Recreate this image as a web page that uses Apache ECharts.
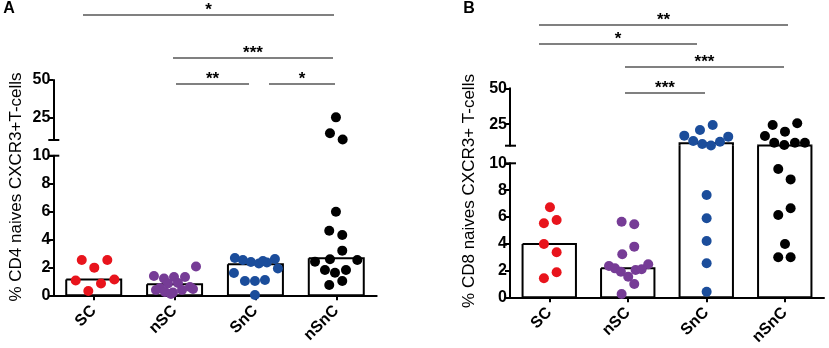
<!DOCTYPE html>
<html>
<head>
<meta charset="utf-8">
<script src="https://cdn.jsdelivr.net/npm/echarts@6/dist/echarts.min.js"></script>
<style>
  html, body { margin: 0; background: #fff; }
  #chart { width: 829px; height: 348px; }
</style>
</head>
<body>
<div id="chart"></div>
<script>
var categories = ['SC', 'nSC', 'SnC', 'nSnC'];
var groupColors = ['#e8141c', '#763c96', '#1b4d9b', '#000000'];

// axis break: lower segment 0-10, upper segment 10-50
var breakValue = 10;
var upperTicks = [25, 50];

// A: % CD4 naives CXCR3+ T-cells (bar = median, one dot per donor)
var cd4Median = [1.13, 0.79, 2.22, 2.65];
var cd4SC = [2.53, 2.53, 1.98, 1.06, 1.13, 0.84, 0.31];
var cd4SCJitter = [-0.148, 0.168, 0.007, -0.223, 0.255, 0.09, -0.067];
var cd4nSC = [2.06, 1.38, 1.2, 1.31, 1.31, 0.85, 0.88, 0.52, 0.59, 0.24, 0.2, 0.38, 0.38, 0.09, 0.45];
var cd4nSCJitter = [0.265, -0.255, -0.131, -0.007, 0.129, -0.082, 0.042, -0.181, 0.19, -0.119, -0.02, 0.092, -0.23, -0.045, 0.228];
var cd4SnC = [2.67, 2.53, 2.39, 2.28, 2.35, 2.6, 1.6, 1.92, 1.02, 1.02, 1.1, 0.02, 2.45];
var cd4SnCJitter = [-0.254, -0.155, -0.056, 0.043, 0.142, 0.241, -0.266, 0.278, -0.13, -0.006, 0.118, -0.006, 0.093];
var cd4nSnC = [25.1, 14.5, 10.3, 5.99, 4.63, 4.32, 3.2, 2.41, 2.58, 2.53, 1.81, 1.62, 1.81, 0.74, 1.02];
var cd4nSnCJitter = [-0.004, -0.078, 0.079, -0.004, -0.087, 0.074, 0.074, -0.263, -0.078, 0.26, -0.14, -0.016, 0.12, -0.087, 0.074];

// B: % CD8 naives CXCR3+ T-cells
var cd8Median = [3.98, 2.16, 11.7, 10.2];
var cd8SC = [6.72, 5.52, 5.77, 3.98, 3.36, 1.42, 1.87];
var cd8SCJitter = [0.009, -0.068, 0.094, -0.068, 0.094, -0.068, 0.094];
var cd8nSC = [5.64, 5.45, 3.78, 3.21, 2.34, 2.16, 1.91, 1.54, 2.04, 2.09, 2.46, 0.99, 0.25];
var cd8nSCJitter = [-0.078, 0.083, 0.083, -0.07, -0.239, -0.163, -0.087, 0.006, 0.1, 0.177, 0.261, 0.083, -0.078];
var cd8SnC = [24.4, 20.9, 17.0, 16.3, 13.3, 11.2, 10.2, 12.8, 7.63, 5.9, 4.2, 2.54, 0.42];
var cd8SnCJitter = [0.082, -0.08, -0.28, 0.28, -0.166, -0.051, 0.06, 0.175, 0.005, 0.005, 0.005, 0.005, 0.005];
var cd8nSnC = [24.4, 25.6, 16.8, 19.8, 12.1, 10.5, 12.1, 12.1, 9.57, 8.8, 6.64, 6.14, 3.98, 2.99, 2.99];
var cd8nSnCJitter = [-0.154, 0.159, -0.252, 0.003, -0.134, -0.006, 0.13, 0.257, -0.083, 0.075, 0.075, -0.083, 0.003, -0.083, 0.075];

// significance brackets: [from x, to x, y, stars]
var sigA = [[83, 334, 15, '*'], [173, 333, 58, '***'], [176, 249, 84, '**'], [269, 335, 84, '*']];
var sigB = [[539, 788, 25, '**'], [539, 697, 44, '*'], [625, 784, 67, '***'], [625, 705, 93, '***']];

var font = 'Liberation Sans, Arial, sans-serif';
var barWidth = 0.68;

var panels = [
  {
    letter: 'A', title: '% CD4 naives CXCR3+T-cells', median: cd4Median,
    groups: [[cd4SC, cd4SCJitter], [cd4nSC, cd4nSCJitter], [cd4SnC, cd4SnCJitter], [cd4nSnC, cd4nSnCJitter]],
    sig: sigA, left: 53.3, width: 323.4, upTop: 80, upH: 60, lowTop: 155.7, lowH: 139.6,
    titleX: 16, titleY: 187, letterX: 9
  },
  {
    letter: 'B', title: '% CD8 naives CXCR3+ T-cells', median: cd8Median,
    groups: [[cd8SC, cd8SCJitter], [cd8nSC, cd8nSCJitter], [cd8SnC, cd8SnCJitter], [cd8nSnC, cd8nSnCJitter]],
    sig: sigB, left: 510, width: 314, upTop: 88.3, upH: 57.4, lowTop: 163.3, lowH: 134,
    titleX: 469, titleY: 191, letterX: 469
  }
];

var axisLine = { show: true, onZero: false, lineStyle: { color: '#000', width: 2 } };
var axisTick = { show: true, length: 5, lineStyle: { color: '#000', width: 2 } };
var tickLabel = { color: '#000', fontWeight: 'bold', fontSize: 16, fontFamily: font, margin: 3 };

function dots(values, jitter, g, upper) {
  var out = [];
  for (var i = 0; i < values.length; i++) {
    if ((values[i] >= breakValue) === upper) out.push([g + jitter[i], values[i]]);
  }
  return out;
}

function barStyle() {
  return { fill: null, stroke: '#000', lineWidth: 2 };
}

// lower segment: closed box, or an open box running up through the gap
function lowerBar(gap) {
  return function (params, api) {
    var g = api.value(0), v = api.value(1);
    var half = api.size([barWidth, 0])[0] / 2;
    var base = api.coord([g, 0]);
    var l = base[0] - half, r = base[0] + half;
    var top = v < breakValue ? api.coord([g, v])[1] : api.coord([g, breakValue])[1] - gap;
    var pts = [[l, top], [l, base[1]], [r, base[1]], [r, top]];
    if (v < breakValue) pts.push([l, top]);
    return { type: 'polyline', shape: { points: pts }, style: barStyle() };
  };
}

function upperBar(params, api) {
  var g = api.value(0), v = api.value(1);
  if (v < breakValue) return null;
  var half = api.size([barWidth, 0])[0] / 2;
  var bottom = api.coord([g, breakValue]);
  var top = api.coord([g, v])[1];
  var l = bottom[0] - half, r = bottom[0] + half;
  return {
    type: 'polyline',
    shape: { points: [[l, bottom[1]], [l, top], [r, top], [r, bottom[1]]] },
    style: barStyle()
  };
}

var grid = [], xAxis = [], yAxis = [], series = [], graphic = [];

panels.forEach(function (p) {
  var up = grid.length, low = up + 1;
  grid.push({ left: p.left, top: p.upTop, width: p.width, height: p.upH });
  grid.push({ left: p.left, top: p.lowTop, width: p.width, height: p.lowH });

  var xUp = xAxis.length;
  xAxis.push({ gridIndex: up, type: 'value', min: -0.5, max: 3.5, show: false });
  xAxis.push({ gridIndex: low, type: 'value', min: -0.5, max: 3.5, show: false });
  xAxis.push({
    gridIndex: low, type: 'category', position: 'bottom', data: categories,
    axisLine: axisLine,
    axisTick: { show: true, alignWithLabel: true, length: 5, lineStyle: { color: '#000', width: 2 } },
    axisLabel: { color: '#000', fontWeight: 'bold', fontSize: 16, fontFamily: font, rotate: 45, margin: 13 }
  });

  yAxis.push({
    gridIndex: up, type: 'value', min: breakValue, max: 50,
    axisLine: axisLine,
    axisTick: { show: true, length: 5, lineStyle: { color: '#000', width: 2 }, customValues: upperTicks },
    axisLabel: { color: '#000', fontWeight: 'bold', fontSize: 16, fontFamily: font, margin: 3, customValues: upperTicks },
    splitLine: { show: false }
  });
  yAxis.push({
    gridIndex: low, type: 'value', min: 0, max: breakValue, interval: 2,
    axisLine: axisLine, axisTick: axisTick, axisLabel: tickLabel,
    splitLine: { show: false }
  });

  var gap = p.lowTop - (p.upTop + p.upH);
  var barData = p.median.map(function (v, g) { return [g, v]; });
  series.push({ type: 'custom', xAxisIndex: xUp, yAxisIndex: up, data: barData, renderItem: upperBar, silent: true, z: 2 });
  series.push({ type: 'custom', xAxisIndex: xUp + 1, yAxisIndex: low, data: barData, renderItem: lowerBar(gap), silent: true, z: 2 });

  p.groups.forEach(function (grp, g) {
    [true, false].forEach(function (upper) {
      series.push({
        type: 'scatter',
        xAxisIndex: upper ? xUp : xUp + 1,
        yAxisIndex: upper ? up : low,
        data: dots(grp[0], grp[1], g, upper),
        symbolSize: 10,
        itemStyle: { color: groupColors[g], opacity: 1 },
        silent: true,
        z: 3
      });
    });
  });

  // break marks
  [p.upTop + p.upH, p.lowTop].forEach(function (y) {
    graphic.push({ type: 'line', shape: { x1: p.left - 5, y1: y, x2: p.left + 6, y2: y }, style: { stroke: '#000', lineWidth: 2 } });
  });

  graphic.push({
    type: 'text', x: p.titleX, y: p.titleY, rotation: Math.PI / 2,
    style: { text: p.title, font: '17px ' + font, fill: '#000', textAlign: 'center', textVerticalAlign: 'middle' }
  });
  graphic.push({
    type: 'text', x: p.letterX, y: 9,
    style: { text: p.letter, font: 'bold 16px ' + font, fill: '#000', textAlign: 'center', textVerticalAlign: 'middle' }
  });

  p.sig.forEach(function (s) {
    graphic.push({ type: 'line', shape: { x1: s[0], y1: s[2], x2: s[1], y2: s[2] }, style: { stroke: '#808080', lineWidth: 2 } });
    graphic.push({
      type: 'text', x: (s[0] + s[1]) / 2, y: s[2] - 5,
      style: { text: s[3], font: 'bold 17px ' + font, fill: '#000', textAlign: 'center', textVerticalAlign: 'middle' }
    });
  });
});

var chart = echarts.init(document.getElementById('chart'));
chart.setOption({
  animation: false,
  backgroundColor: '#fff',
  grid: grid,
  xAxis: xAxis,
  yAxis: yAxis,
  series: series,
  graphic: graphic
});
</script>
</body>
</html>
